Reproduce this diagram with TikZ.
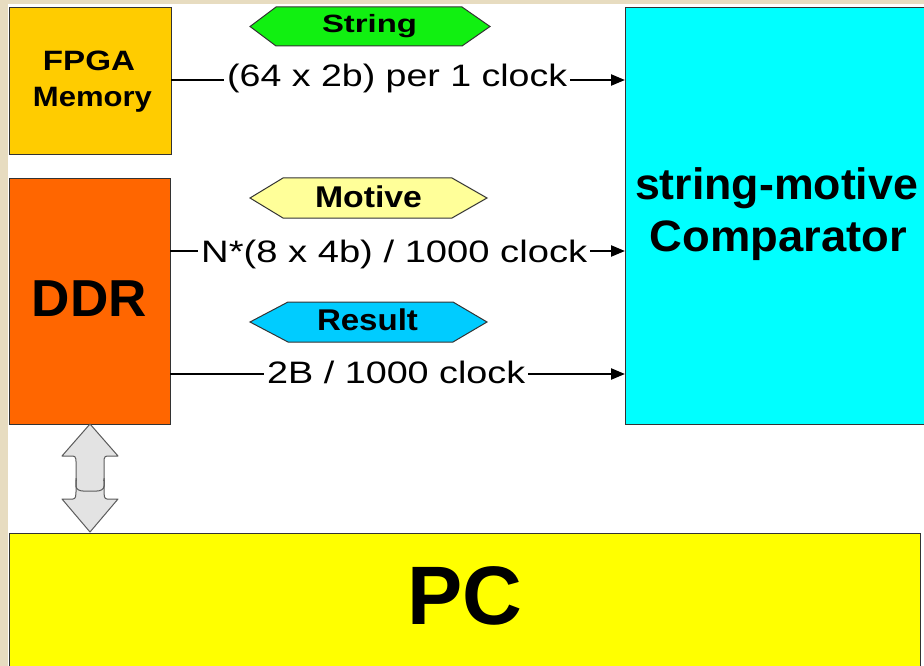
\documentclass[tikz,border=0pt]{standalone}
\usepackage{fontspec}
\setmainfont{Liberation Sans}
\usetikzlibrary{arrows.meta}
\definecolor{bgbeige}{HTML}{E7DCC0}
\definecolor{fpgacol}{HTML}{FFCC00}
\definecolor{ddrcol}{HTML}{FF6600}
\definecolor{compcol}{HTML}{00FFFF}
\definecolor{pccol}{HTML}{FFFF00}
\definecolor{strcol}{HTML}{11F011}
\definecolor{motcol}{HTML}{FFFF99}
\definecolor{rescol}{HTML}{00CCFF}
\definecolor{edgecol}{HTML}{333333}
\definecolor{dblcol}{HTML}{E3E3E3}
\newcommand{\fitw}[2]{\resizebox{#1}{\height}{#2}}
\begin{document}
\begin{tikzpicture}[x=1pt,y=-1pt,
  blockbox/.style={draw=edgecol,line width=1.3pt,inner sep=0pt,anchor=north west},
  hexbox/.style={draw=edgecol,line width=1pt},
  txt/.style={inner sep=0pt,anchor=base},
  lbl/.style={inner sep=0pt,anchor=base west,font=\fontsize{31}{31}\selectfont},
  conn/.style={line width=2.3pt,black},
  tip/.style={-{Triangle[length=14pt,width=11pt]}}
]
\useasboundingbox (0,0) rectangle (924,666);
\fill[bgbeige] (0,0) rectangle (924,666);
\fill[white] (8,4) rectangle (924,666);

% blocks
\node[blockbox,fill=fpgacol,minimum width=162pt,minimum height=147pt] (fpga) at (9,7) {};
\node[blockbox,fill=ddrcol,minimum width=161pt,minimum height=246pt] (ddr) at (9,178) {};
\node[blockbox,fill=compcol,minimum width=310pt,minimum height=417pt] (comp) at (625,7) {};
\node[blockbox,fill=pccol,minimum width=911pt,minimum height=150pt] (pc) at (9,533) {};

% block texts
\node[txt,font=\fontsize{28}{28}\selectfont\bfseries] (fpgat1) at (89,71) {\fitw{92pt}{FPGA}};
\node[txt,font=\fontsize{28}{28}\selectfont\bfseries] (fpgat2) at (92.5,107) {\fitw{119pt}{Memory}};
\node[txt,font=\fontsize{52}{52}\selectfont\bfseries] (ddrt) at (89.5,316) {\fitw{115pt}{DDR}};
\node[txt,font=\fontsize{44}{44}\selectfont\bfseries] (compt1) at (776.5,200) {\fitw{283pt}{string-motive}};
\node[txt,font=\fontsize{44}{44}\selectfont\bfseries] (compt2) at (778.5,251) {\fitw{257pt}{Comparator}};
\node[txt,font=\fontsize{83}{83}\selectfont\bfseries] (pct) at (464.5,624) {\fitw{115pt}{PC}};

% hexagon labels
\draw[hexbox,fill=strcol] (250,26.5) -- (276,7) -- (462,7) -- (490,26.5) -- (462,46) -- (276,46) -- cycle;
\node[txt,font=\fontsize{25}{25}\selectfont\bfseries] (strt) at (369.5,33) {\fitw{95pt}{String}};
\draw[hexbox,fill=motcol] (250,198) -- (283,178) -- (452,178) -- (487,198) -- (452,218) -- (283,218) -- cycle;
\node[txt,font=\fontsize{30}{30}\selectfont\bfseries] (mott) at (368.5,207.5) {\fitw{107pt}{Motive}};
\draw[hexbox,fill=rescol] (250,322) -- (288,302) -- (453,302) -- (487,322) -- (453,342) -- (288,342) -- cycle;
\node[txt,font=\fontsize{30}{30}\selectfont\bfseries] (rest) at (367.5,330) {\fitw{101pt}{Result}};

% connector labels
\node[lbl] (l1) at (227,87) {\fitw{340pt}{(64 x 2b) per 1 clock}};
\node[lbl] (l2) at (201,262) {\fitw{386pt}{N*(8 x 4b) / 1000 clock}};
\node[lbl] (l3) at (267,383) {\fitw{258pt}{2B / 1000 clock}};

\coordinate (a1) at (171,80);
\coordinate (a2) at (170,251);
\coordinate (a3) at (170,374);

% connectors
\draw[conn,shorten >=3pt] (a1) -- (l1.west |- a1);
\draw[conn,tip,shorten <=3pt] (l1.east |- a1) -- (comp.west |- a1);
\draw[conn,shorten >=3pt] (a2) -- (l2.west |- a2);
\draw[conn,tip,shorten <=3pt] (l2.east |- a2) -- (comp.west |- a2);
\draw[conn,shorten >=3pt] (a3) -- (l3.west |- a3);
\draw[conn,tip,shorten <=3pt] (l3.east |- a3) -- (comp.west |- a3);

% double arrow DDR <-> PC
\draw[draw=edgecol!80,line width=1pt,fill=dblcol,line join=round]
  (90,424) -- (118,456) -- (107,456) to[out=180,in=90] (104,464) -- (104,486)
  to[out=-90,in=0] (97,491) -- (83,491) to[out=180,in=-90] (76,486) -- (76,464)
  to[out=90,in=0] (73,456) -- (62,456) -- cycle;
\draw[draw=edgecol!80,line width=1pt,fill=dblcol,line join=round]
  (90,532) -- (118,499) -- (107,499) to[out=180,in=-90] (104,492) -- (104,480)
  -- (76,480) -- (76,492) to[out=-90,in=0] (73,499) -- (62,499) -- cycle;
\fill[dblcol] (77,470) rectangle (103,495);
\draw[draw=edgecol!80,line width=1pt] (76,478) -- (76,486) to[out=-90,in=180] (83,491) -- (97,491) to[out=0,in=-90] (104,486) -- (104,478);
\end{tikzpicture}
\end{document}
